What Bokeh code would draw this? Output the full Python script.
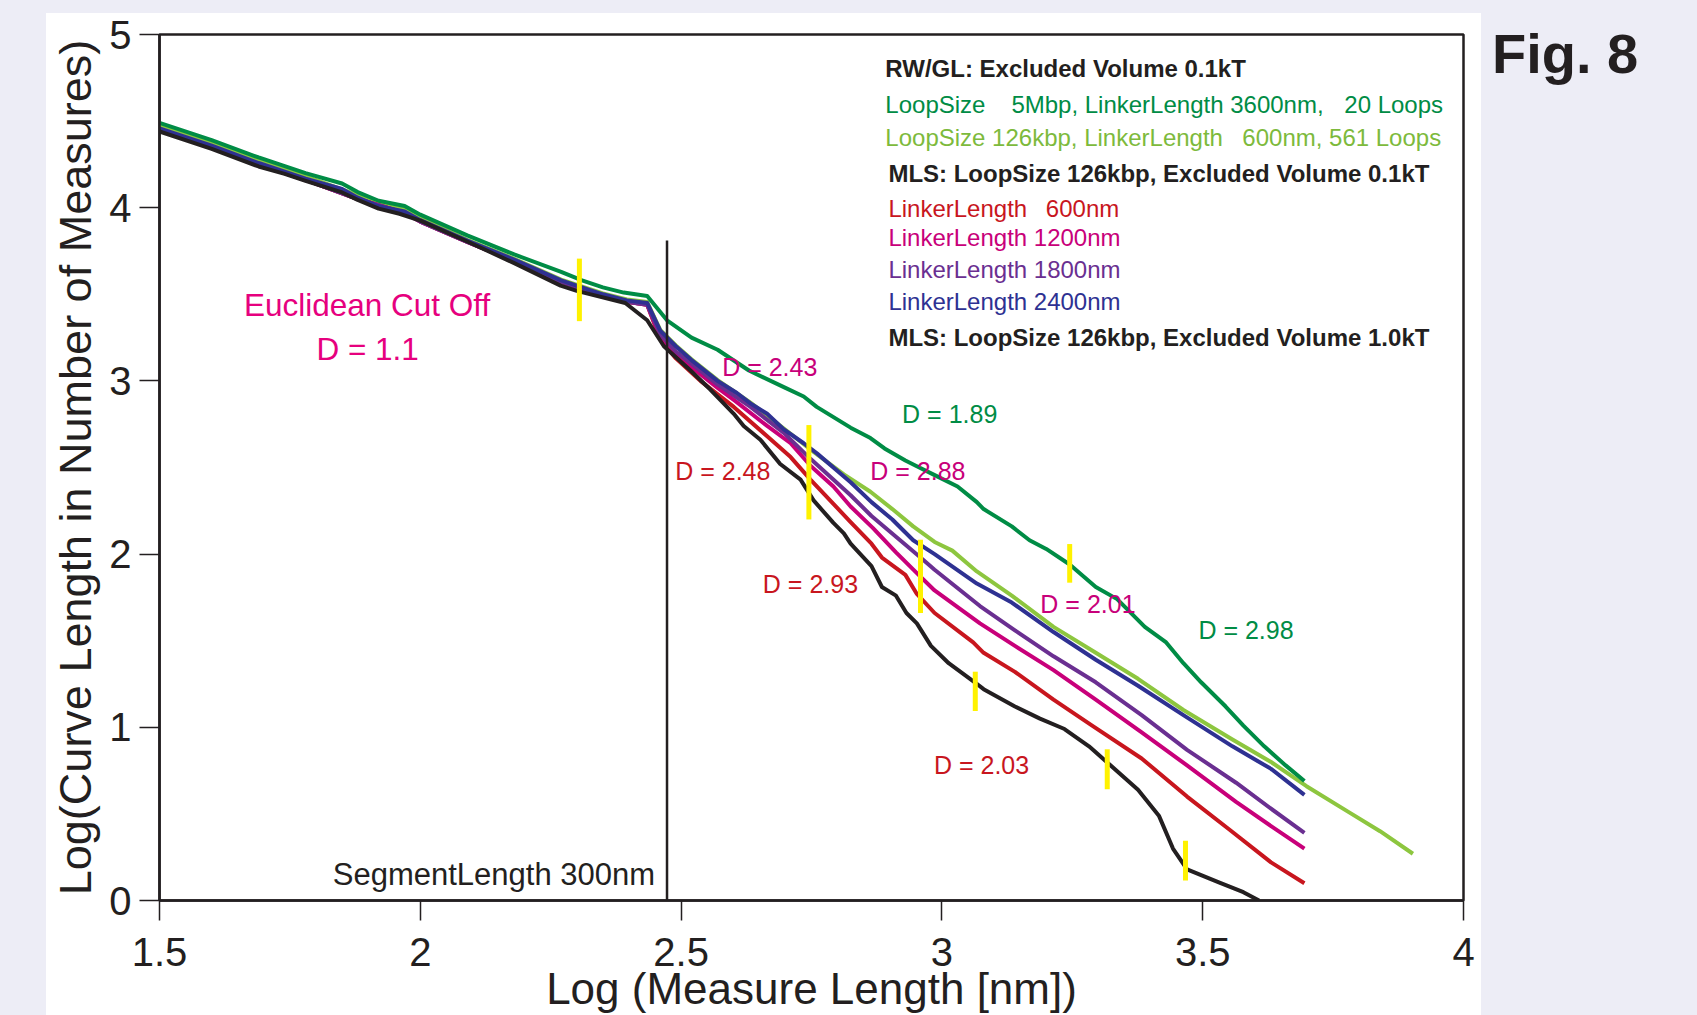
from bokeh.plotting import figure
from bokeh.models import Label, FixedTicker, Div
from bokeh.layouts import row, column
from bokeh.embed import file_html
from bokeh.resources import INLINE

# ---------------- data ----------------
x_ticks = [1.5, 2, 2.5, 3, 3.5, 4]
x_tick_labels = ["1.5", "2", "2.5", "3", "3.5", "4"]
y_ticks = [0, 1, 2, 3, 4, 5]
y_tick_labels = ["0", "1", "2", "3", "4", "5"]

# RW/GL: LoopSize 5Mbp, LinkerLength 3600nm, 20 loops
dg_x = [1.50, 1.60, 1.69, 1.74, 1.78, 1.85, 1.88, 1.92, 1.97, 2.00, 2.09, 2.18, 2.27, 2.31, 2.35, 2.39,
        2.435, 2.473, 2.52, 2.57, 2.63, 2.70, 2.735, 2.76, 2.825, 2.863, 2.89, 2.93, 2.95, 2.99, 3.03,
        3.067, 3.08, 3.134, 3.168, 3.20, 3.245, 3.295, 3.336, 3.389, 3.43, 3.463, 3.497, 3.544, 3.578,
        3.618, 3.659, 3.695]
dg_y = [4.49, 4.39, 4.29, 4.24, 4.20, 4.14, 4.09, 4.04, 4.01, 3.96, 3.84, 3.73, 3.63, 3.58, 3.54, 3.51,
        3.49, 3.35, 3.25, 3.18, 3.06, 2.96, 2.91, 2.85, 2.73, 2.67, 2.61, 2.54, 2.51, 2.45, 2.39,
        2.30, 2.26, 2.16, 2.08, 2.03, 1.94, 1.81, 1.74, 1.58, 1.49, 1.37, 1.26, 1.12, 1.01,
        0.89, 0.78, 0.69]

# RW/GL: LoopSize 126kbp, LinkerLength 600nm, 561 loops
lg_x = [1.50, 1.60, 1.69, 1.78, 1.88, 1.97, 2.00, 2.09, 2.18, 2.27, 2.35, 2.396, 2.435, 2.46, 2.49, 2.52,
        2.57, 2.633, 2.697, 2.754, 2.812, 2.863, 2.905, 2.945, 2.986, 3.02, 3.067, 3.134, 3.214, 3.295,
        3.376, 3.463, 3.557, 3.631, 3.699, 3.78, 3.84, 3.903]
lg_y = [4.472, 4.372, 4.272, 4.182, 4.072, 3.992, 3.942, 3.815, 3.705, 3.585, 3.505, 3.47, 3.455, 3.295, 3.205,
        3.125, 3.005, 2.875, 2.725, 2.59, 2.46, 2.36, 2.26, 2.16, 2.07, 2.02, 1.90, 1.76, 1.58, 1.43,
        1.28, 1.10, 0.93, 0.80, 0.66, 0.51, 0.40, 0.27]

# MLS 0.1kT, LinkerLength 600nm
rd_x = [1.50, 1.69, 1.78, 1.88, 1.97, 2.00, 2.09, 2.18, 2.27, 2.35, 2.396, 2.435, 2.46, 2.49, 2.537,
        2.601, 2.665, 2.710, 2.748, 2.792, 2.825, 2.865, 2.885, 2.93, 2.952, 2.986, 3.060, 3.080,
        3.140, 3.214, 3.288, 3.383, 3.470, 3.551, 3.631, 3.695]
rd_y = [4.450, 4.250, 4.160, 4.050, 3.970, 3.920, 3.802, 3.692, 3.572, 3.492, 3.457, 3.44, 3.24, 3.13, 3.00,
        2.85, 2.68, 2.56, 2.43, 2.29, 2.185, 2.06, 1.98, 1.88, 1.77, 1.66, 1.49, 1.43,
        1.32, 1.16, 1.01, 0.82, 0.60, 0.41, 0.22, 0.10]

# MLS 0.1kT, LinkerLength 1200nm
mg_x = [1.50, 1.69, 1.78, 1.88, 1.97, 2.00, 2.09, 2.18, 2.27, 2.35, 2.396, 2.435, 2.46, 2.49, 2.52, 2.57,
        2.601, 2.665, 2.710, 2.748, 2.792, 2.825, 2.868, 2.912, 2.952, 2.986, 3.073, 3.140, 3.214,
        3.295, 3.383, 3.470, 3.564, 3.631, 3.695]
mg_y = [4.450, 4.250, 4.160, 4.050, 3.970, 3.920, 3.802, 3.692, 3.572, 3.492, 3.457, 3.44, 3.25, 3.15, 3.08, 2.96,
        2.89, 2.74, 2.64, 2.51, 2.39, 2.275, 2.15, 2.01, 1.89, 1.79, 1.60, 1.47, 1.33,
        1.16, 0.97, 0.78, 0.57, 0.43, 0.30]

# MLS 0.1kT, LinkerLength 1800nm
pu_x = [1.50, 1.69, 1.78, 1.88, 1.97, 2.00, 2.09, 2.18, 2.27, 2.35, 2.396, 2.435, 2.46, 2.49, 2.52, 2.57,
        2.633, 2.697, 2.748, 2.825, 2.865, 2.912, 2.959, 2.986, 3.073, 3.140, 3.214, 3.295, 3.383,
        3.470, 3.564, 3.631, 3.695]
pu_y = [4.450, 4.250, 4.160, 4.050, 3.970, 3.920, 3.802, 3.692, 3.572, 3.492, 3.457, 3.44, 3.27, 3.17, 3.10, 2.98,
        2.85, 2.70, 2.55, 2.34, 2.22, 2.10, 1.98, 1.91, 1.70, 1.56, 1.41, 1.26, 1.07,
        0.87, 0.68, 0.53, 0.39]

# MLS 0.1kT, LinkerLength 2400nm
bl_x = [1.50, 1.60, 1.69, 1.74, 1.78, 1.85, 1.88, 1.92, 1.97, 2.00, 2.09, 2.18, 2.27, 2.31, 2.35, 2.396,
        2.435, 2.46, 2.49, 2.52, 2.57, 2.607, 2.633, 2.665, 2.697, 2.735, 2.761, 2.825, 2.865, 2.905,
        2.945, 2.986, 3.067, 3.134, 3.214, 3.295, 3.376, 3.463, 3.557, 3.631, 3.695]
bl_y = [4.458, 4.358, 4.258, 4.208, 4.168, 4.108, 4.058, 4.008, 3.978, 3.928, 3.81, 3.70, 3.58, 3.54, 3.50, 3.465,
        3.45, 3.29, 3.20, 3.12, 3.00, 2.93, 2.87, 2.81, 2.72, 2.64, 2.58, 2.415, 2.30, 2.20,
        2.08, 2.00, 1.83, 1.72, 1.55, 1.39, 1.24, 1.07, 0.89, 0.76, 0.61]

# MLS: LoopSize 126kbp, Excluded Volume 1.0kT
bk_x = [1.50, 1.60, 1.69, 1.74, 1.78, 1.85, 1.88, 1.92, 1.96, 2.00, 2.09, 2.18, 2.269, 2.30, 2.393, 2.435,
        2.467, 2.518, 2.556, 2.601, 2.620, 2.652, 2.690, 2.729, 2.754, 2.792, 2.812, 2.825, 2.865,
        2.885, 2.912, 2.932, 2.952, 2.979, 3.013, 3.063, 3.080, 3.140, 3.188, 3.235, 3.282, 3.316,
        3.376, 3.416, 3.443, 3.470, 3.531, 3.578, 3.608]
bk_y = [4.440, 4.340, 4.238, 4.195, 4.155, 4.088, 4.045, 3.995, 3.965, 3.925, 3.805, 3.68, 3.55, 3.52, 3.45, 3.35,
        3.20, 3.06, 2.95, 2.81, 2.74, 2.66, 2.52, 2.43, 2.31, 2.18, 2.12, 2.06, 1.93,
        1.81, 1.76, 1.66, 1.60, 1.47, 1.37, 1.26, 1.22, 1.12, 1.05, 0.99, 0.89, 0.80,
        0.64, 0.49, 0.30, 0.18, 0.105, 0.048, 0.0]

# yellow fit-range markers
mk_x = [2.305, 2.745, 2.959, 3.245, 3.064, 3.317, 3.467]
mk_y0 = [3.345, 2.20, 1.66, 1.835, 1.094, 0.643, 0.115]
mk_y1 = [3.706, 2.745, 2.083, 2.058, 1.321, 0.873, 0.345]

# segment length line (log10 300nm)
seg_x = 2.473
seg_y1 = 3.81

# fractal dimension annotations
d_text = ["D = 2.43", "D = 1.89", "D = 2.48", "D = 2.88", "D = 2.93", "D = 2.01", "D = 2.98", "D = 2.03"]
d_x = [2.670, 3.015, 2.580, 2.954, 2.748, 3.280, 3.583, 3.076]
d_y = [3.081, 2.810, 2.481, 2.481, 1.828, 1.711, 1.560, 0.782]

fig_text = "Fig. 8"

C_DG = "#008C45"
C_LG = "#8DC63F"
C_RD = "#C8161E"
C_MG = "#C8007A"
C_PU = "#6A2F91"
C_BL = "#2E3192"
C_BK = "#231F20"
C_YE = "#FFF200"
C_BG = "#EDEDF6"
d_col = [C_MG, C_DG, C_RD, C_MG, C_RD, C_MG, C_DG, C_RD]

FONT = "Liberation Sans"

# ---------------- figure ----------------
fig = figure(width=1435, height=1002, output_backend="svg", toolbar_location=None,
             x_range=(1.5, 4.0), y_range=(0, 5),
             min_border_left=113, min_border_right=18, min_border_top=21, min_border_bottom=113)
fig.border_fill_color = "white"
fig.background_fill_color = "white"
fig.outline_line_color = C_BK
fig.outline_line_width = 2.5
fig.outline_line_alpha = 1.0
fig.grid.visible = False

xa = fig.xaxis[0]
ya = fig.yaxis[0]
xa.ticker = FixedTicker(ticks=x_ticks)
ya.ticker = FixedTicker(ticks=y_ticks)
xa.major_label_overrides = {t: l for t, l in zip(x_ticks, x_tick_labels)}
ya.major_label_overrides = {t: l for t, l in zip(y_ticks, y_tick_labels)}
for ax in (xa, ya):
    ax.major_tick_out = 20
    ax.major_tick_in = 0
    ax.minor_tick_line_color = None
    ax.major_tick_line_color = C_BK
    ax.major_tick_line_width = 1.5
    ax.axis_line_color = C_BK
    ax.axis_line_width = 2.5
    ax.major_label_text_font = FONT
    ax.major_label_text_font_size = "40px"
    ax.major_label_text_color = C_BK
    ax.axis_label_text_font = FONT
    ax.axis_label_text_font_style = "normal"
    ax.axis_label_text_color = C_BK
xa.major_label_standoff = 17
ya.major_label_standoff = 8
ya.axis_label = "Log(Curve Length in Number of Measures)"
ya.axis_label_text_font_size = "45px"
ya.axis_label_standoff = 5
xa.axis_label = "Log (Measure Length [nm])"
xa.axis_label_text_font_size = "44px"
xa.axis_label_standoff = -5

# curves
for xs, ys, c in [(lg_x, lg_y, C_LG), (dg_x, dg_y, C_DG), (rd_x, rd_y, C_RD), (mg_x, mg_y, C_MG),
                  (pu_x, pu_y, C_PU), (bl_x, bl_y, C_BL), (bk_x, bk_y, C_BK)]:
    fig.line(xs, ys, line_color=c, line_width=4, line_join="round")

fig.segment(x0=[seg_x], y0=[0], x1=[seg_x], y1=[seg_y1], line_color=C_BK, line_width=2.5)
fig.segment(x0=mk_x, y0=mk_y0, x1=mk_x, y1=mk_y1, line_color=C_YE, line_width=5)


def lab(x, y, t, size, color, align="left", baseline="middle", style="normal"):
    fig.add_layout(Label(x=x, y=y, text=t, text_font=FONT, text_font_size=size, text_color=color,
                         text_align=align, text_baseline=baseline, text_font_style=style))


for t, x, y, c in zip(d_text, d_x, d_y, d_col):
    lab(x, y, t, "25px", c, align="center")

lab(1.898, 3.437, "Euclidean Cut Off", "31.5px", "#E6007E", align="center")
lab(1.899, 3.183, "D = 1.1", "31.5px", "#E6007E", align="center")
lab(2.450, 0.149, "SegmentLength 300nm", "31px", C_BK, align="right")

# legend block
lab(2.8916, 4.802, "RW/GL: Excluded Volume 0.1kT", "24px", C_BK, style="bold")
lab(2.8916, 4.594, "LoopSize", "24px", C_DG)
lab(3.1332, 4.594, "5Mbp, LinkerLength 3600nm,", "24px", C_DG)
lab(3.7715, 4.594, "20 Loops", "24px", C_DG)
lab(2.8916, 4.404, "LoopSize 126kbp, LinkerLength", "24px", "#7DBA3C")
lab(3.5760, 4.404, "600nm, 561 Loops", "24px", "#7DBA3C")
lab(2.8974, 4.197, "MLS: LoopSize 126kbp, Excluded Volume 0.1kT", "24px", C_BK, style="bold")
lab(2.8974, 3.995, "LinkerLength", "24px", C_RD)
lab(3.1993, 3.995, "600nm", "24px", C_RD)
lab(2.8974, 3.828, "LinkerLength 1200nm", "24px", C_MG)
lab(2.8974, 3.644, "LinkerLength 1800nm", "24px", C_PU)
lab(2.8974, 3.460, "LinkerLength 2400nm", "24px", C_BL)
lab(2.8974, 3.252, "MLS: LoopSize 126kbp, Excluded Volume 1.0kT", "24px", C_BK, style="bold")

# ---------------- page layout (lavender surround, white panel) ----------------
left_pad = Div(text="", width=46, height=1015, margin=0, styles={"background-color": C_BG})
top_pad = Div(text="", width=1435, height=13, margin=0, styles={"background-color": C_BG})
right_pad = Div(
    text=('<div style="padding-left:11px;padding-top:26px;font-family:\'Liberation Sans\';'
          'font-weight:bold;font-size:56px;line-height:56px;color:#231F20;white-space:nowrap">'
          + fig_text + '</div>'),
    width=216, height=1015, margin=0, styles={"background-color": C_BG})

p = row(left_pad, column(top_pad, fig, spacing=0), right_pad, spacing=0)

open("out.html", "w").write(file_html(p, INLINE))
